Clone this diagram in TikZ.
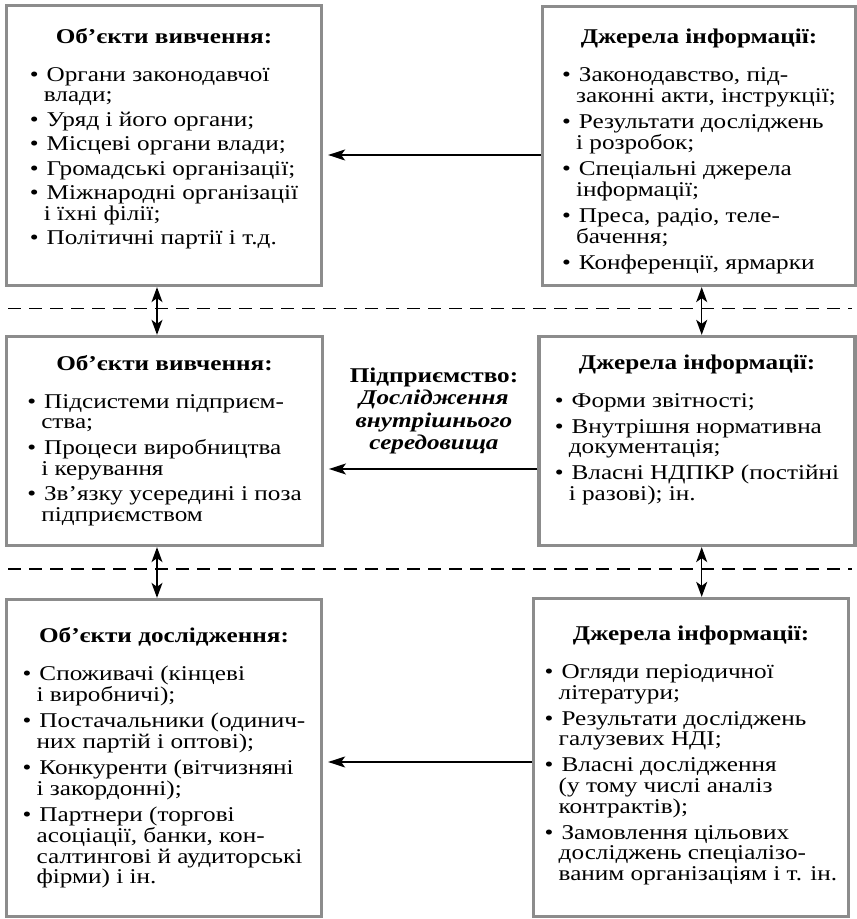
\documentclass[tikz,border=0pt]{standalone}
\usepackage{fontspec}
\setmainfont{Liberation Serif}[FakeStretch=1.2]
\usetikzlibrary{arrows.meta,positioning}
\definecolor{framegray}{RGB}{140,140,140}
\newcommand{\itm}{\textbullet\hspace{8pt}}
\newcommand{\nxt}{\hspace{14pt}}

\begin{document}
\begin{tikzpicture}[x=1pt,y=1pt,
  frame/.style={draw=framegray, line width=3.3pt, inner sep=0pt},
  body/.style={inner sep=0pt, align=center, font=\fontsize{21}{20.5}\selectfont},
  link/.style={line width=1.4pt, shorten >=5pt, -{Stealth[length=17pt,width=11pt,inset=4pt]}},
  both/.style={line width=1.4pt, {Stealth[length=15pt,width=11pt,inset=4pt]}-{Stealth[length=15pt,width=11pt,inset=4pt]}},
  sep/.style={line width=1.5pt, dash pattern=on 12.4pt off 8.6pt}]
\useasboundingbox (0,0) rectangle (857,919);

% levels
\draw[sep] (8.3,610.7) -- (852,610.7);
\draw[sep] (8.3,350) -- (852,350);

% frames
\node[frame, minimum width=315pt, minimum height=280pt] (obj1) at (164,773.5) {};
\node[frame, minimum width=313.4pt, minimum height=279pt] (src1) at (699,773) {};
\node[frame, minimum width=315.6pt, minimum height=209pt] (obj2) at (164.5,478) {};
\node[frame, minimum width=316pt, minimum height=209pt] (src2) at (697,478) {};
\node[frame, minimum width=315pt, minimum height=317pt] (obj3) at (164,161) {};
\node[frame, minimum width=315pt, minimum height=318pt] (src3) at (691,161.5) {};

% texts
\node[body, below=24pt of obj1.north] (obj1txt) {\textbf{Об’єкти вивчення:}\\[17.5pt]
\begin{tabular}[t]{@{}l@{}}
\itm Органи законодавчої\\
\nxt влади;\\[4pt]
\itm Уряд і його органи;\\[4pt]
\itm Місцеві органи влади;\\[4pt]
\itm Громадські організації;\\[4pt]
\itm Міжнародні організації\\
\nxt і їхні філії;\\[4pt]
\itm Політичні партії і т.д.
\end{tabular}};
\node[body, below=24pt of src1.north] (src1txt) {\textbf{Джерела інформації:}\\[17.5pt]
\begin{tabular}[t]{@{}l@{}}
\itm Законодавство, під-\\
\nxt законні акти, інструкції;\\[5.5pt]
\itm Результати досліджень\\
\nxt і розробок;\\[5.5pt]
\itm Спеціальні джерела\\
\nxt інформації;\\[5.5pt]
\itm Преса, радіо, теле-\\
\nxt бачення;\\[5.5pt]
\itm Конференції, ярмарки
\end{tabular}};
\node[body, below=20pt of obj2.north] (obj2txt) {\textbf{Об’єкти вивчення:}\\[17.5pt]
\begin{tabular}[t]{@{}l@{}}
\itm Підсистеми підприєм-\\
\nxt ства;\\[5pt]
\itm Процеси виробництва\\
\nxt і керування\\[5pt]
\itm Зв’язку усередині і поза\\
\nxt підприємством
\end{tabular}};
\node[body, below=20pt of src2.north] (src2txt) {\textbf{Джерела інформації:}\\[17.5pt]
\begin{tabular}[t]{@{}l@{}}
\itm Форми звітності;\\[5pt]
\itm Внутрішня нормативна\\
\nxt документація;\\[5pt]
\itm Власні НДПКР (постійні\\
\nxt і разові); ін.
\end{tabular}};
\node[body, below=29pt of obj3.north] (obj3txt) {\textbf{Об’єкти дослідження:}\\[17.5pt]
\begin{tabular}[t]{@{}l@{}}
\itm Споживачі (кінцеві\\
\nxt і виробничі);\\[5.5pt]
\itm Постачальники (одинич-\\
\nxt них партій і оптові);\\[5.5pt]
\itm Конкуренти (вітчизняні\\
\nxt і закордонні);\\[5.5pt]
\itm Партнери (торгові\\
\nxt асоціації, банки, кон-\\
\nxt салтингові й аудиторські\\
\nxt фірми) і ін.
\end{tabular}};
\node[body, below=29pt of src3.north] (src3txt) {\textbf{Джерела інформації:}\\[17.5pt]
\begin{tabular}[t]{@{}l@{}}
\itm Огляди періодичної\\
\nxt літератури;\\[5.5pt]
\itm Результати досліджень\\
\nxt галузевих НДІ;\\[5.5pt]
\itm Власні дослідження\\
\nxt (у тому числі аналіз\\
\nxt контрактів);\\[5.5pt]
\itm Замовлення цільових\\
\nxt досліджень спеціалізо-\\
\nxt ваним організаціям і т. ін.
\end{tabular}};

\node[body, font=\fontsize{21}{22.5}\selectfont] (firm) at (434,508)
  {\textbf{Підприємство:}\\\textbf{\textit{Дослідження}}\\\textbf{\textit{внутрішнього}}\\\textbf{\textit{середовища}}};

% arrows
\draw[link] (src1.west |- 0,764) -- (obj1.east |- 0,764);
\draw[link] (src2.west |- 0,450) -- (obj2.east |- 0,450);
\draw[link] (src3.west |- 0,157) -- (obj3.east |- 0,157);
\draw[both] (obj1.south -| 157,0) -- (obj2.north -| 157,0);
\draw[both] (src1.south -| 701.7,0) -- (src2.north -| 701.7,0);
\draw[both] (obj2.south -| 157,0) -- (obj3.north -| 157,0);
\draw[both] (src2.south -| 701.7,0) -- (src3.north -| 701.7,0);
\end{tikzpicture}
\end{document}
